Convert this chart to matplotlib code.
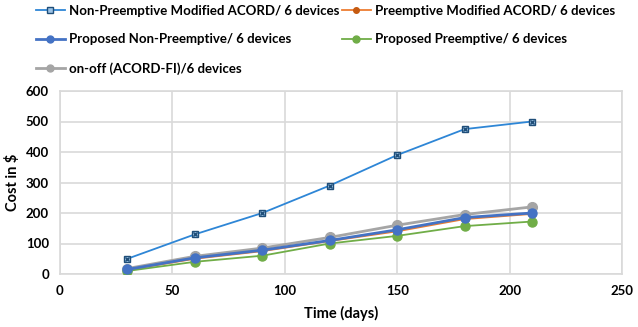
import matplotlib
matplotlib.use("Agg")
import matplotlib.pyplot as plt
from matplotlib.lines import Line2D

plt.rcParams['font.family'] = ['Lato', 'DejaVu Sans']

days = [30, 60, 90, 120, 150, 180, 210]
non_pre_mod = [50, 130, 200, 290, 390, 475, 500]
pre_mod = [13, 50, 75, 108, 140, 180, 197]
prop_non_pre = [15, 53, 78, 110, 145, 185, 200]
prop_pre = [10, 40, 60, 100, 125, 157, 172]
onoff = [18, 58, 85, 120, 160, 195, 220]

labels = ["Non-Preemptive Modified ACORD/ 6 devices",
          "Preemptive Modified ACORD/ 6 devices",
          "Proposed Non-Preemptive/ 6 devices",
          "Proposed Preemptive/ 6 devices",
          "on-off (ACORD-FI)/6 devices"]

fig = plt.figure(figsize=(6.38, 3.27), dpi=100)
ax = fig.add_axes([60/638, 1-274/327, (622-60)/638, (274-91)/327])

c1 = '#2E86D6'
c2 = '#ED7D31'
c3 = '#4472C4'
c4 = '#70AD47'
c5 = '#A5A5A5'

ax.plot(days, non_pre_mod, color=c1, lw=1.3, marker='s', ms=5,
        mfc='#9DC3E6', mec='#1F4E79', mew=1.0, zorder=5)
ax.plot(days, non_pre_mod, ls='none', marker='x', ms=3.5, mec='#1F4E79', mew=1.0, zorder=6)
ax.plot(days, pre_mod, color=c2, lw=1.3, marker='o', ms=5, mfc='#C55A11', mec='#C55A11', zorder=3)
ax.plot(days, prop_non_pre, color=c3, lw=2.0, marker='o', ms=6.5, mfc=c3, mec=c3, zorder=4)
ax.plot(days, prop_pre, color=c4, lw=1.3, marker='o', ms=6.5, mfc=c4, mec=c4, zorder=3)
ax.plot(days, onoff, color=c5, lw=2.0, marker='o', ms=7, mfc=c5, mec=c5, zorder=2)

ax.set_xlim(0, 250)
ax.set_ylim(0, 600)
ax.set_xticks([0, 50, 100, 150, 200, 250])
ax.set_yticks([0, 100, 200, 300, 400, 500, 600])
ax.grid(True, color='#D9D9D9', lw=1.2)
ax.set_axisbelow(True)
for s in ax.spines.values():
    s.set_color('#D9D9D9')
    s.set_linewidth(1.2)
ax.tick_params(length=0, labelsize=9.5, pad=8)
for t in ax.get_xticklabels() + ax.get_yticklabels():
    t.set_fontweight('bold')
ax.set_xlabel('Time (days)', fontsize=10.5, fontweight='bold', labelpad=6)
ax.set_ylabel('Cost in $', fontsize=10.5, fontweight='bold', labelpad=4)

handles = [
    Line2D([], [], color=c1, lw=1.3, marker='s', ms=4.5, mfc='#9DC3E6', mec='#1F4E79'),
    Line2D([], [], color=c2, lw=1.3, marker='o', ms=4, mfc='#C55A11', mec='#C55A11'),
    Line2D([], [], color=c3, lw=2.0, marker='o', ms=5, mfc=c3, mec=c3),
    Line2D([], [], color=c4, lw=1.3, marker='o', ms=5, mfc=c4, mec=c4),
    Line2D([], [], color=c5, lw=2.0, marker='o', ms=5, mfc=c5, mec=c5),
]
order = [0, 2, 4, 1, 3]
leg = fig.legend([handles[i] for i in order], [labels[i] for i in order],
                 loc='upper left', bbox_to_anchor=(24/638, 1.0 + 7/327),
                 ncol=2, frameon=False, fontsize=9.5, handlelength=2.2,
                 handletextpad=0.3, columnspacing=0.2, labelspacing=1.25)
for t in leg.get_texts():
    t.set_fontweight('bold')

fig.savefig('out.png', dpi=100)
